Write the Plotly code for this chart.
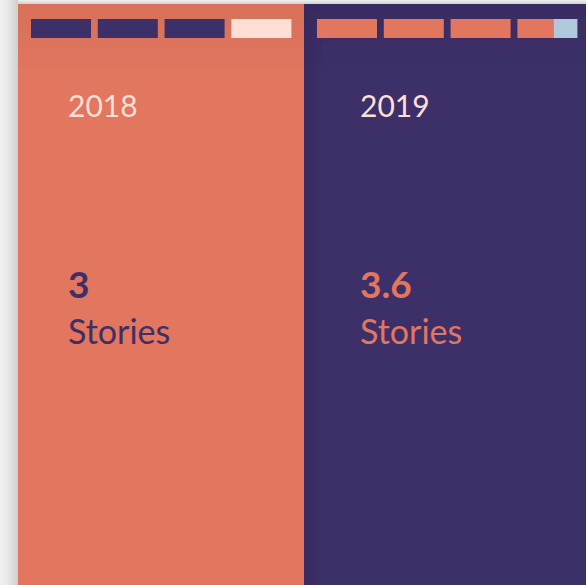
import plotly.graph_objects as go

# ---- data ----
years = ["2018", "2019"]
stories = [3, 3.6]
slots = 4
unit_label = "Stories"

# ---- styles ----
CORAL = "#E2765F"
PURPLE = "#3D2F68"
PINK = "#FFDED4"
BLUE = "#B0C8DC"
panel_bg = [CORAL, PURPLE]
fill_col = [PURPLE, CORAL]
empty_col = [PINK, BLUE]
num_col = [PURPLE, CORAL]
year_col = [PINK, PINK]

W, H = 586, 585
U = 66.8                 # px per slot
PANEL_W = 286 / U        # panel width in slot units
SLOT_IN = 13 / U         # slot inset from panel left
SLOT_W = 60 / U
TEXT_IN = [48 / U, 54 / U]
FONT = "Lato"


def px2u(px):
    return (px - 31) / U


fig = go.Figure()
shapes = []
annotations = []

# page shadow (left edge and top strip)
n = 9
for k in range(n):
    g = int(240 - (240 - 210) * (k / (n - 1)) ** 1.5)
    shapes.append(dict(type="rect", xref="x", yref="y", x0=px2u(2 * k), x1=px2u(2 * k + 2),
                       y0=0, y1=H + 5, fillcolor=f"rgb({g},{g},{g})", line_width=0, layer="below"))
for k in range(4):
    g = int(236 - 8 * k)
    shapes.append(dict(type="rect", xref="x", yref="y", x0=px2u(18), x1=px2u(W + 10),
                       y0=k, y1=k + 1, fillcolor=f"rgb({g},{g},{g})", line_width=0, layer="below"))

for p, (yr, v) in enumerate(zip(years, stories)):
    x0 = px2u(18) + p * PANEL_W
    x1 = x0 + PANEL_W if p < len(years) - 1 else px2u(W + 10)
    shapes.append(dict(type="rect", xref="x", yref="y", x0=x0, x1=x1, y0=4, y1=H + 5,
                       fillcolor=panel_bg[p], line_width=0, layer="below"))
    # soft top shading
    for k in range(8):
        a = 0.045 * (1 - k / 8)
        shapes.append(dict(type="rect", xref="x", yref="y", x0=x0, x1=x1, y0=4 + 8 * k, y1=12 + 8 * k,
                           fillcolor=f"rgba(0,0,0,{a:.3f})", line_width=0, layer="below"))
    if p > 0:
        for k in range(6):
            a = 0.06 * (1 - k / 6)
            shapes.append(dict(type="rect", xref="x", yref="y", x0=x0 + 3 * k / U, x1=x0 + 3 * (k + 1) / U,
                               y0=4, y1=H + 5, fillcolor=f"rgba(0,0,0,{a:.3f})", line_width=0,
                               layer="below"))
    bases_f, lens_f, bases_e, lens_e = [], [], [], []
    for i in range(slots):
        f = max(0.0, min(1.0, v - i))
        s = x0 + SLOT_IN + i
        bases_f.append(s)
        lens_f.append(f * SLOT_W)
        bases_e.append(s + f * SLOT_W)
        lens_e.append((1 - f) * SLOT_W)
    fig.add_trace(go.Bar(orientation="h", base=bases_f, x=lens_f, y=[28.5] * slots, width=19,
                         marker=dict(color=fill_col[p], line_width=0), hoverinfo="skip",
                         showlegend=False))
    fig.add_trace(go.Bar(orientation="h", base=bases_e, x=lens_e, y=[28.5] * slots, width=19,
                         marker=dict(color=empty_col[p], line_width=0), hoverinfo="skip",
                         showlegend=False))
    tx = x0 + TEXT_IN[p]
    annotations.append(dict(x=tx, y=105, xref="x", yref="y", text=yr, showarrow=False,
                            xanchor="left", yanchor="middle",
                            font=dict(family=FONT, size=30, color=year_col[p])))
    annotations.append(dict(x=tx, y=283, xref="x", yref="y", text=f"<b>{v:g}</b>", showarrow=False,
                            xanchor="left", yanchor="middle",
                            font=dict(family=FONT, size=37, color=num_col[p])))
    annotations.append(dict(x=tx, y=330, xref="x", yref="y", text=unit_label, showarrow=False,
                            xanchor="left", yanchor="middle",
                            font=dict(family=FONT, size=34, color=num_col[p])))

fig.update_layout(
    width=W, height=H, margin=dict(l=0, r=0, t=0, b=0),
    paper_bgcolor="#EBEBEB", plot_bgcolor="rgba(0,0,0,0)",
    barmode="overlay", shapes=shapes, annotations=annotations,
    xaxis=dict(range=[px2u(0), px2u(W)], visible=False, fixedrange=True),
    yaxis=dict(range=[H, 0], visible=False, fixedrange=True),
)
fig.write_html("out.html", config={"displayModeBar": False},
               post_script="document.body.style.margin='0';document.body.style.overflow='hidden';")
